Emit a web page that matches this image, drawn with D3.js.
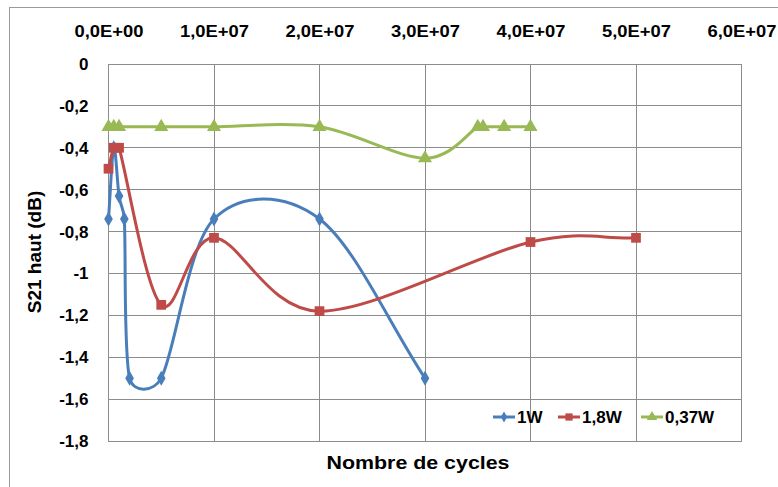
<!DOCTYPE html>
<html><head><meta charset="utf-8">
<script src="https://cdn.jsdelivr.net/npm/d3@7"></script>
<style>
html,body{margin:0;padding:0;background:#fff;}
svg text{font-family:"Liberation Sans",Arial,sans-serif;font-weight:bold;fill:#000;}
</style></head>
<body>
<svg id="chart" width="778" height="487"></svg>
<script>
// ---- data ----
const seriesNames = ["1W", "1,8W", "0,37W"];
const x1W = [0, 5e5, 1e6, 1.5e6, 2e6, 5e6, 1e7, 2e7, 3e7];
const y1W = [-0.74, -0.4, -0.63, -0.74, -1.5, -1.5, -0.74, -0.74, -1.5];
const x18W = [0, 5e5, 1e6, 5e6, 1e7, 2e7, 4e7, 5e7];
const y18W = [-0.5, -0.4, -0.4, -1.15, -0.83, -1.18, -0.85, -0.83];
const x037W = [0, 5e5, 1e6, 5e6, 1e7, 2e7, 3e7, 3.5e7, 3.55e7, 3.75e7, 4e7];
const y037W = [-0.3, -0.3, -0.3, -0.3, -0.3, -0.3, -0.45, -0.3, -0.3, -0.3, -0.3];
const xTicks = [0, 1e7, 2e7, 3e7, 4e7, 5e7, 6e7];
const yTicks = [0, -0.2, -0.4, -0.6, -0.8, -1, -1.2, -1.4, -1.6, -1.8];
const colors = ["#4A7EBB", "#BE4B48", "#98B954"];
const xTitle = "Nombre de cycles";
const yTitle = "S21 haut (dB)";

const svg = d3.select("#chart");
const L = 108.5, R = 741.5, T = 64, B = 441;
const x = d3.scaleLinear().domain([0, 6e7]).range([L, R]);
const y = d3.scaleLinear().domain([-1.8, 0]).range([B, T]);

// Spreadsheet-style smoothing curve (tangent bezier, arms clamped to half segment)
function SmoothCurve(context) { this._context = context; }
SmoothCurve.prototype = {
  areaStart() { this._line = 0; },
  areaEnd() { this._line = NaN; },
  lineStart() { this._pts = []; },
  point(px, py) { this._pts.push([+px, +py]); },
  lineEnd() {
    const p = this._pts, c = this._context, n = p.length;
    if (!n) return;
    c.moveTo(p[0][0], p[0][1]);
    const dist = (a, b) => Math.hypot(b[0] - a[0], b[1] - a[1]);
    for (let i = 0; i < n - 1; i++) {
      const p0 = p[i - 1] || p[i], p1 = p[i], p2 = p[i + 1], p3 = p[i + 2] || p[i + 1];
      const d12 = dist(p1, p2);
      const f1 = (p0 === p1) ? 1 / 3 : 1 / 6;
      const f2 = (p3 === p2) ? 1 / 3 : 1 / 6;
      let a1 = [(p2[0] - p0[0]) * f1, (p2[1] - p0[1]) * f1];
      let a2 = [(p3[0] - p1[0]) * f2, (p3[1] - p1[1]) * f2];
      const l1 = Math.hypot(a1[0], a1[1]), l2 = Math.hypot(a2[0], a2[1]);
      if (l1 > d12 / 2) a1 = a1.map(v => v * (d12 / 2) / l1);
      if (l2 > d12 / 2) a2 = a2.map(v => v * (d12 / 2) / l2);
      c.bezierCurveTo(p1[0] + a1[0], p1[1] + a1[1], p2[0] - a2[0], p2[1] - a2[1], p2[0], p2[1]);
    }
  }
};
const curveSmooth = ctx => new SmoothCurve(ctx);

// outer chart border
svg.append("rect").attr("x", 9.5).attr("y", 7.5).attr("width", 900).attr("height", 600)
  .attr("fill", "none").attr("stroke", "#9a9a9a").attr("stroke-width", 1);

// gridlines
const grid = svg.append("g").attr("stroke", "#8c8c8c").attr("stroke-width", 1).attr("shape-rendering", "crispEdges");
yTicks.forEach(t => grid.append("line").attr("x1", L).attr("x2", R).attr("y1", y(t)).attr("y2", y(t)));
xTicks.forEach(t => grid.append("line").attr("x1", x(t)).attr("x2", x(t)).attr("y1", T).attr("y2", B));
svg.append("rect").attr("x", L).attr("y", T).attr("width", R - L).attr("height", B - T)
  .attr("fill", "none").attr("stroke", "#8c8c8c").attr("shape-rendering", "crispEdges");

// axes
function fmtX(d) {
  const s = d.toExponential(1).split("e");
  const e = parseInt(s[1], 10);
  const sign = e < 0 ? "-" : "+";
  return s[0].replace(".", ",") + "E" + sign + String(Math.abs(e)).padStart(2, "0");
}
function fmtY(d) { return String(+d.toFixed(1)).replace(".", ","); }

const xa = svg.append("g").attr("transform", `translate(0,${T})`)
  .call(d3.axisTop(x).tickValues(xTicks).tickFormat(fmtX).tickSize(0).tickPadding(27));
xa.select(".domain").remove();
xa.selectAll("text").attr("font-size", 17).attr("textLength", 69).attr("lengthAdjust", "spacingAndGlyphs");

const ya = svg.append("g").attr("transform", `translate(${L},0)`)
  .call(d3.axisLeft(y).tickValues(yTicks).tickFormat(fmtY).tickSize(0).tickPadding(20));
ya.select(".domain").remove();
ya.selectAll("text").attr("font-size", 17);

// titles
svg.append("text").attr("x", 418).attr("y", 469).attr("text-anchor", "middle")
  .attr("font-size", 19).attr("textLength", 183).attr("lengthAdjust", "spacingAndGlyphs").text(xTitle);
svg.append("text").attr("transform", "translate(41,252) rotate(-90)").attr("text-anchor", "middle")
  .attr("font-size", 19).text(yTitle);

// series
const series = [
  {name: seriesNames[0], xs: x1W, ys: y1W, color: colors[0], sym: d3.symbolDiamond, size: 65},
  {name: seriesNames[1], xs: x18W, ys: y18W, color: colors[1], sym: d3.symbolSquare, size: 95},
  {name: seriesNames[2], xs: x037W, ys: y037W, color: colors[2], sym: d3.symbolTriangle, size: 85}
];
const line = d3.line().x(d => x(d[0])).y(d => y(d[1])).curve(curveSmooth);
series.forEach(s => {
  const pts = s.xs.map((v, i) => [v, s.ys[i]]);
  svg.append("path").attr("d", line(pts)).attr("fill", "none").attr("stroke", s.color)
    .attr("stroke-width", 3).attr("stroke-linejoin", "round");
  svg.append("g").selectAll("path").data(pts).join("path")
    .attr("transform", d => `translate(${x(d[0])},${y(d[1])})`)
    .attr("d", d3.symbol().type(s.sym).size(s.size)).attr("fill", s.color);
});

// legend
const legendPos = [[493, 517], [558, 582], [641, 665]];
const ly = 417;
series.forEach((s, i) => {
  const [lx, tx] = legendPos[i];
  svg.append("line").attr("x1", lx).attr("x2", lx + 22).attr("y1", ly).attr("y2", ly)
    .attr("stroke", s.color).attr("stroke-width", 3);
  svg.append("path").attr("transform", `translate(${lx + 11},${ly})`)
    .attr("d", d3.symbol().type(s.sym).size(s.size * 0.55)).attr("fill", s.color);
  svg.append("text").attr("x", tx).attr("y", ly + 6).attr("font-size", 17).text(s.name);
});
</script>
</body></html>
